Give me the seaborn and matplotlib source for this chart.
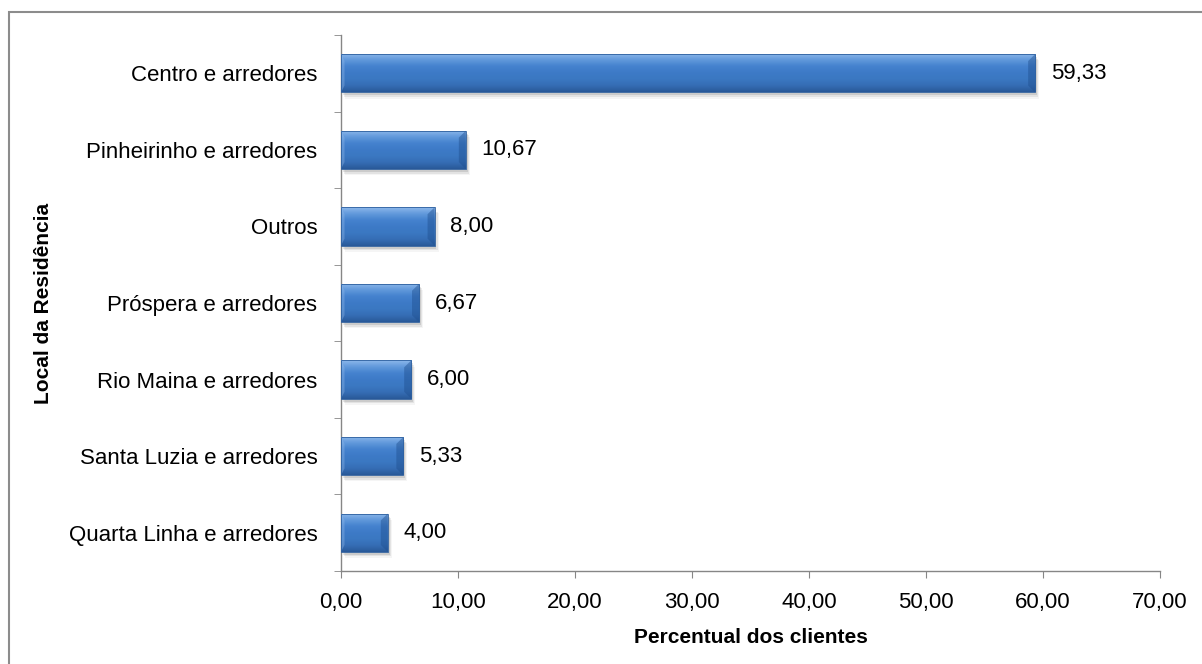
import numpy as np
import pandas as pd
import matplotlib
matplotlib.use("Agg")
import matplotlib.pyplot as plt
from matplotlib.patches import Rectangle, Polygon
from matplotlib.ticker import FixedLocator, FuncFormatter
import seaborn as sns

# Data
locais = [
    "Centro e arredores",
    "Pinheirinho e arredores",
    "Outros",
    "Próspera e arredores",
    "Rio Maina e arredores",
    "Santa Luzia e arredores",
    "Quarta Linha e arredores",
]
percentual = [59.33, 10.67, 8.00, 6.67, 6.00, 5.33, 4.00]
x_ticks = [0, 10, 20, 30, 40, 50, 60, 70]

df = pd.DataFrame({"local": locais, "pct": percentual})

sns.set_style("white")
plt.rcParams["font.family"] = ["Liberation Sans", "DejaVu Sans"]
plt.rcParams["text.color"] = "black"
plt.rcParams["axes.labelcolor"] = "black"
plt.rcParams["xtick.color"] = "black"
plt.rcParams["ytick.color"] = "black"

FS = 16

fig = plt.figure(figsize=(12.02, 6.64), dpi=100)
ax = fig.add_axes([341 / 1202, 1 - 571 / 664, (1160 - 341) / 1202, (571 - 35) / 664])

sns.barplot(data=df, x="pct", y="local", orient="h", color="#3b78c2",
            width=0.5, ax=ax, saturation=1, edgecolor="none", zorder=3)

ax.set_xlim(0, 70)
ax.set_ylim(6.5, -0.5)

# Gradient / bevel shading for each bar
grad = np.array([
    [0.55, 0.72, 0.92],
    [0.38, 0.60, 0.86],
    [0.27, 0.51, 0.81],
    [0.24, 0.48, 0.78],
    [0.23, 0.47, 0.76],
    [0.21, 0.43, 0.71],
    [0.16, 0.35, 0.60],
])
cmap = matplotlib.colors.LinearSegmentedColormap.from_list("bar", grad)
vert = np.linspace(0, 1, 64)[:, None]
for p in list(ax.patches):
    x0, y0 = p.get_x(), p.get_y()
    w, h = p.get_width(), p.get_height()
    # soft drop shadow
    for k, a in enumerate([0.10, 0.07, 0.04]):
        ax.add_patch(Rectangle((x0 + 0.15 + 0.1 * k, y0 + 0.04 + 0.02 * k), w, h,
                               facecolor="#000000", alpha=a, edgecolor="none",
                               zorder=2))
    img = ax.imshow(np.repeat(vert, 4, axis=1), cmap=cmap, aspect="auto",
                    extent=(x0, x0 + w, y0 + h, y0), zorder=4,
                    interpolation="bilinear")
    img.set_clip_path(p)
    # bevelled right end
    cap = 0.6
    ax.add_patch(Polygon([(x0 + w, y0), (x0 + w - cap, y0 + h * 0.18),
                          (x0 + w - cap, y0 + h * 0.82), (x0 + w, y0 + h)],
                         closed=True, facecolor="#1f4f8f", alpha=0.45,
                         edgecolor="none", zorder=5))
    # bevelled left end
    ax.add_patch(Polygon([(x0, y0), (x0 + cap * 0.5, y0 + h * 0.18),
                          (x0 + cap * 0.5, y0 + h * 0.82), (x0, y0 + h)],
                         closed=True, facecolor="#9cc0ec", alpha=0.35,
                         edgecolor="none", zorder=5))
    ax.add_patch(Rectangle((x0, y0), w, h, facecolor="none",
                           edgecolor="#2d5f9e", linewidth=0.6, zorder=6))

ax.set_xlim(0, 70)
ax.set_ylim(6.5, -0.5)

# Value labels
for i, v in enumerate(percentual):
    ax.text(v + 1.35, i, f"{v:.2f}".replace(".", ","), va="center",
            ha="left", fontsize=FS, color="black", zorder=7)

# Axes styling
axis_color = "#868686"
for s in ["top", "right"]:
    ax.spines[s].set_visible(False)
for s in ["left", "bottom"]:
    ax.spines[s].set_color(axis_color)
    ax.spines[s].set_linewidth(1.0)

ax.xaxis.set_major_locator(FixedLocator(x_ticks))
ax.xaxis.set_major_formatter(FuncFormatter(lambda v, _: f"{v:.2f}".replace(".", ",")))
ax.tick_params(axis="x", direction="out", length=5, color=axis_color,
               labelsize=FS, pad=10, bottom=True)

ax.yaxis.set_minor_locator(FixedLocator(np.arange(-0.5, 7, 1.0)))
ax.tick_params(axis="y", which="major", length=0, labelsize=FS, pad=17)
ax.tick_params(axis="y", which="minor", direction="out", length=5,
               color=axis_color, left=True)

ax.set_xlabel("Percentual dos clientes", fontsize=15, fontweight="bold", va="top")
ax.xaxis.set_label_coords(0.5, -0.106)
ax.set_ylabel("Local da Residência", fontsize=15, fontweight="bold")
ax.yaxis.set_label_coords(-0.352, 0.5)

# Outer chart border (cut at right and bottom edges)
fig.patches.append(Rectangle((9 / 1202, -0.05), 1.1, 1 - 12 / 664 + 0.05,
                             transform=fig.transFigure, facecolor="none",
                             edgecolor="#8c8c8c", linewidth=1.5))

fig.savefig("out.png", dpi=100, facecolor="white")
